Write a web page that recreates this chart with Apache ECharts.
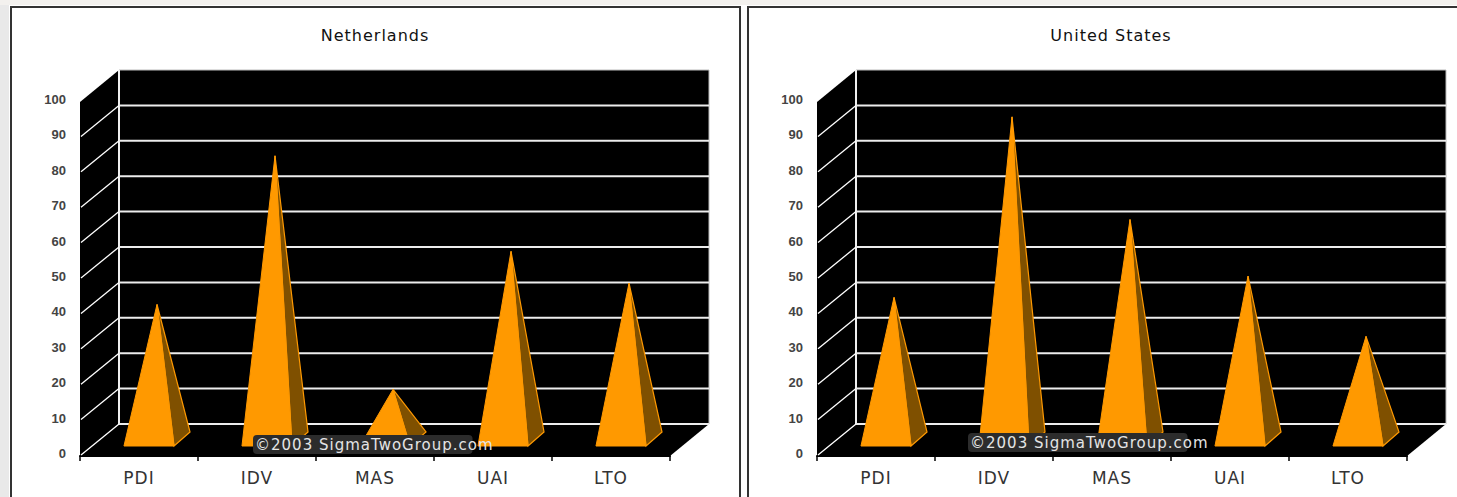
<!DOCTYPE html>
<html><head><meta charset="utf-8">
<style>html,body{margin:0;padding:0;background:#fff}#c{width:1457px;height:497px}
#c svg text{letter-spacing:1px}
#c svg text[style*="Liberation"]{letter-spacing:0}
</style>
<script src="https://cdn.jsdelivr.net/npm/echarts@6/dist/echarts.min.js"></script>
</head><body><div id="c"></div>
<script>
const categories = ['PDI','IDV','MAS','UAI','LTO'];
const netherlandsValues = [38,80,14,53,44];
const unitedStatesValues = [40,91,62,46,29];
const yTicks = [0,10,20,30,40,50,60,70,80,90,100];
const panelTitles = ['Netherlands','United States'];
const watermark = '©2003 SigmaTwoGroup.com';

const WALL = {dx:39, dy:-32};
const CENTER = {dx:18, dy:-17};
const BASE = {dx:8, dy:7};
const ORANGE = '#ff9900', BROWN = '#7f5000';

function wallItem(params, api){
  const cs = params.coordSys;
  const x0 = cs.x, x1 = cs.x + cs.width, yT = cs.y, yB = cs.y + cs.height;
  const d = WALL;
  return {type:'group', children:[
    {type:'polygon', shape:{points:[[x0,yB],[x1,yB],[x1+d.dx,yB+d.dy],[x0+d.dx,yB+d.dy]]}, style:{fill:'#000'}},
    {type:'polygon', shape:{points:[[x0,yB],[x0+d.dx,yB+d.dy],[x0+d.dx,yT+d.dy],[x0,yT]]}, style:{fill:'#000'}},
    {type:'rect', shape:{x:x0+d.dx,y:yT+d.dy,width:x1-x0,height:yB-yT}, style:{fill:'#000',stroke:'#bbb',lineWidth:1}},
    {type:'line', shape:{x1:x0+d.dx,y1:yT+d.dy,x2:x0+d.dx,y2:yB+d.dy}, style:{stroke:'#f0f0f0',lineWidth:2}}
  ]};
}
function gridItem(params, api){
  const cs = params.coordSys, d = WALL;
  const p = api.coord([0, api.value(0)]);
  const y = p[1], x0 = cs.x, x1 = cs.x + cs.width;
  const kids = [];
  if (api.value(0) < 100) {
    kids.push({type:'line', shape:{x1:x0+1,y1:y-1,x2:x0+d.dx,y2:y+d.dy}, style:{stroke:'#fff',lineWidth:1.3}});
    kids.push({type:'line', shape:{x1:x0+d.dx,y1:y+d.dy,x2:x1+d.dx,y2:y+d.dy}, style:{stroke:'#ececec',lineWidth:2}});
  }
  return {type:'group', children:kids};
}
function pyramidItem(params, api){
  const cat = api.value(0), val = api.value(1);
  const base = api.coord([cat,0]), top = api.coord([cat,val]);
  const hw = api.size([1,0])[0]*0.212;
  const cx = base[0]+CENTER.dx, cy = base[1]+CENTER.dy;
  const apex = [top[0]+CENTER.dx, top[1]+CENTER.dy];
  const fl = [cx-BASE.dx-hw, cy+BASE.dy], fr = [cx-BASE.dx+hw, cy+BASE.dy], br = [cx+BASE.dx+hw, cy-BASE.dy];
  return {type:'group', children:[
    {type:'polygon', shape:{points:[fr,br,apex]}, style:{fill:BROWN,stroke:ORANGE,lineWidth:1.2}},
    {type:'polygon', shape:{points:[fl,fr,apex]}, style:{fill:ORANGE,stroke:ORANGE,lineWidth:1}}
  ]};
}
const axisFont = 'DejaVu Sans';
function xa(i){return {gridIndex:i,type:'category',data:categories,
  axisLine:{show:true,lineStyle:{color:'#000',width:2}},
  axisTick:{show:true,length:5,lineStyle:{color:'#000',width:1.5},alignWithLabel:false},
  axisLabel:{color:'#333',fontFamily:axisFont,fontSize:17,margin:13},splitLine:{show:false}};}
function ya(i){return {gridIndex:i,type:'value',min:0,max:100,interval:10,
  axisLine:{show:false},axisTick:{show:false},splitLine:{show:false},
  axisLabel:{color:'#444',fontFamily:'Liberation Sans',fontWeight:'bold',fontSize:13,margin:14,
    verticalAlign:'bottom',lineHeight:5}};}
function wallSeries(i){return {type:'custom',xAxisIndex:i,yAxisIndex:i,z:1,silent:true,renderItem:wallItem,data:[[0,0]],clip:false,encode:{x:0,y:1}};}
function gridSeries(i){return {type:'custom',xAxisIndex:i,yAxisIndex:i,z:2,silent:true,renderItem:gridItem,data:yTicks.map(v=>[v]),clip:false,encode:{y:0}};}
function pyrSeries(i,vals){return {type:'custom',xAxisIndex:i,yAxisIndex:i,z:3,silent:true,renderItem:pyramidItem,data:vals.map((v,k)=>[k,v]),clip:false,encode:{x:0,y:1}};}
function mark(x,y){return {type:'text',z:100,x:x,y:y,style:{text:watermark,fill:'#e4e4e4',font:'15px "DejaVu Sans"',backgroundColor:'#2c2c2c',borderRadius:4,padding:[2,2,2,2]}};}
const chart = echarts.init(document.getElementById('c'),null,{renderer:'svg'});
chart.setOption({
  animation:false, backgroundColor:'#fff',
  title:[
    {text:panelTitles[0],left:370,top:22,textAlign:'center',textStyle:{color:'#111',fontFamily:axisFont,fontSize:16,fontWeight:'normal'}},
    {text:panelTitles[1],left:1106,top:22,textAlign:'center',textStyle:{color:'#111',fontFamily:axisFont,fontSize:16,fontWeight:'normal'}}
  ],
  grid:[{left:80,top:102,width:590,height:354},{left:817,top:102,width:590,height:354}],
  xAxis:[xa(0),xa(1)], yAxis:[ya(0),ya(1)],
  series:[wallSeries(0),wallSeries(1),gridSeries(0),gridSeries(1),pyrSeries(0,netherlandsValues),pyrSeries(1,unitedStatesValues)],
  graphic:[
    {type:'rect',z:-10,silent:true,shape:{x:0,y:0,width:9,height:497},style:{fill:'#e9e9e9'}},
    {type:'rect',z:-10,silent:true,shape:{x:0,y:0,width:1457,height:5},style:{fill:'#f3f1ee'}},
    {type:'rect',z:-5,silent:true,shape:{x:11,y:7,width:729,height:520},style:{fill:'#fff',stroke:'#333',lineWidth:2}},
    {type:'rect',z:-5,silent:true,shape:{x:748,y:7,width:800,height:520},style:{fill:'#fff',stroke:'#333',lineWidth:2}},
    mark(253,435), mark(968,433)
  ]
});
</script></body></html>
